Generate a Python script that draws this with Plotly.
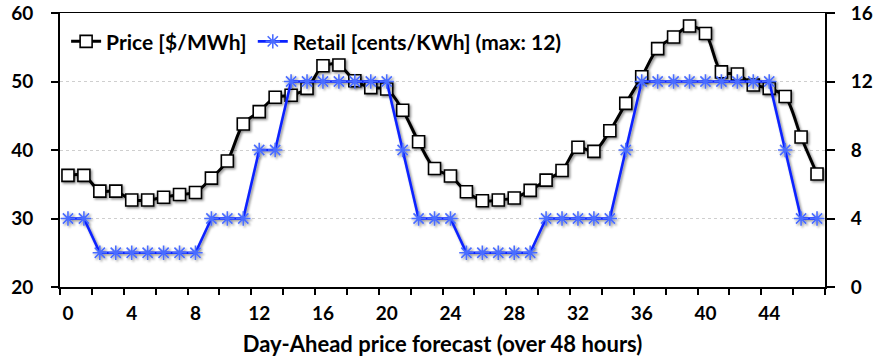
import plotly.graph_objects as go

# Hourly day-ahead forecast, 48 hours
hours = list(range(48))
price_usd_mwh = [
    36.3, 36.3, 34.0, 34.0, 32.7, 32.7, 33.1, 33.5, 33.8, 35.9,
    38.4, 43.8, 45.6, 47.7, 48.0, 49.0, 52.3, 52.4, 50.1, 49.1,
    48.9, 45.8, 41.2, 37.3, 36.2, 33.9, 32.6, 32.7, 33.0, 34.1,
    35.6, 37.0, 40.4, 39.8, 42.8, 46.8, 50.7, 54.8, 56.5, 58.1,
    57.0, 51.4, 51.1, 49.5, 49.0, 47.8, 41.9, 36.5,
]
retail_cents_kwh = [
    4, 4, 2, 2, 2, 2, 2, 2, 2, 4,
    4, 4, 8, 8, 12, 12, 12, 12, 12, 12,
    12, 8, 4, 4, 4, 2, 2, 2, 2, 2,
    4, 4, 4, 4, 4, 8, 12, 12, 12, 12,
    12, 12, 12, 12, 12, 8, 4, 4,
]
x_label_vals = list(range(0, 48, 4))
x_label_text = [str(v) for v in x_label_vals]
x_tick_marks = [h - 0.5 for h in range(0, 49, 2)]
left_ticks = [20, 30, 40, 50, 60]
right_ticks = [0, 4, 8, 12, 16]

FONT = "Lato"
x_range = [-0.5, 47.5]

fig = go.Figure()
fig.add_trace(go.Scatter(
    x=hours, y=price_usd_mwh, name="Price [$/MWh]",
    mode="lines+markers",
    line=dict(color="#000000", width=3, shape="spline", smoothing=0.9),
    marker=dict(symbol="square", size=12, color="#ffffff",
                line=dict(color="#000000", width=1.6)),
    xaxis="x", yaxis="y", legend="legend",
))
fig.add_trace(go.Scatter(
    x=hours, y=retail_cents_kwh, name="Retail [cents/KWh] (max: 12)",
    mode="lines+markers",
    line=dict(color="#0a22ff", width=2.6),
    marker=dict(symbol="asterisk-open", size=12, color="#4a6cff",
                line=dict(color="#4a6cff", width=1.6)),
    xaxis="x2", yaxis="y2", legend="legend2",
))

legend_style = dict(
    orientation="h", yanchor="top", xanchor="left", y=0.97,
    bgcolor="rgba(0,0,0,0)", font=dict(size=21, family=FONT, weight="bold"),
    itemwidth=30,
)

fig.update_layout(
    width=875, height=362,
    margin=dict(l=60, r=50, t=13, b=75, autoexpand=False),
    paper_bgcolor="#ffffff", plot_bgcolor="#ffffff",
    font=dict(family=FONT, color="#000000", size=19, weight="bold"),
    showlegend=True,
    legend=dict(x=0.008, **legend_style),
    legend2=dict(x=0.252, **legend_style),
    xaxis=dict(
        range=x_range, tickmode="array", tickvals=x_label_vals, ticktext=x_label_text,
        ticks="", showgrid=False, zeroline=False, automargin=False,
        showline=True, linecolor="#000000", linewidth=2,
        minor=dict(tickmode="array", tickvals=x_tick_marks, ticks="outside",
                   ticklen=6, tickwidth=2, tickcolor="#000000", showgrid=False),
        ticklabelstandoff=8,
        tickfont=dict(size=19, family=FONT, weight="bold"),
        title=dict(text="Day-Ahead price forecast (over 48 hours)",
                   font=dict(size=22, family=FONT, weight="bold"), standoff=14),
    ),
    xaxis2=dict(
        range=x_range, overlaying="x", side="top", anchor="y2",
        showticklabels=False, ticks="", showgrid=False, zeroline=False,
        showline=True, linecolor="#000000", linewidth=1, automargin=False,
    ),
    xaxis3=dict(
        range=x_range, overlaying="x", side="bottom", anchor="y",
        tickmode="array", tickvals=x_tick_marks, ticks="inside",
        ticklen=6, tickwidth=2, tickcolor="#000000", automargin=False,
        showticklabels=False, showgrid=False, zeroline=False, showline=False,
    ),
    yaxis=dict(
        range=[20, 60], tickmode="array", tickvals=left_ticks,
        ticks="outside", ticklen=7, tickwidth=2, tickcolor="#000000",
        showline=True, linecolor="#000000", linewidth=2, zeroline=False,
        showgrid=True, gridcolor="#cfcfcf", griddash="dot", gridwidth=1,
        ticklabelstandoff=14, automargin=False,
        tickfont=dict(size=19, family=FONT, weight="bold"),
    ),
    yaxis2=dict(
        range=[0, 16], tickmode="array", tickvals=right_ticks,
        overlaying="y", side="right", anchor="x2",
        ticks="outside", ticklen=8, tickwidth=2, tickcolor="#000000",
        showline=True, linecolor="#000000", linewidth=2, zeroline=False,
        showgrid=False, ticklabelstandoff=12, automargin=False,
        tickfont=dict(size=19, family=FONT, weight="bold"),
    ),
)

# soft drop shadow under the series, as in the original workbook chart
shadow_js = """
var gd = document.getElementById('{plot_id}');
function addShadow() {
  var svg = gd.querySelector('svg.main-svg');
  if (!svg) return;
  var ns = 'http://www.w3.org/2000/svg';
  var defs = svg.querySelector('defs') || svg.insertBefore(document.createElementNS(ns, 'defs'), svg.firstChild);
  if (!defs.querySelector('#seriesShadow')) {
    var f = document.createElementNS(ns, 'filter');
    f.setAttribute('id', 'seriesShadow');
    f.setAttribute('x', '-20%'); f.setAttribute('y', '-20%');
    f.setAttribute('width', '140%'); f.setAttribute('height', '140%');
    var s = document.createElementNS(ns, 'feDropShadow');
    s.setAttribute('dx', '1.5'); s.setAttribute('dy', '1.5');
    s.setAttribute('stdDeviation', '1.3');
    s.setAttribute('flood-color', '#000'); s.setAttribute('flood-opacity', '0.45');
    f.appendChild(s); defs.appendChild(f);
  }
  gd.querySelectorAll('.cartesianlayer .scatterlayer .trace').forEach(function (t) {
    t.setAttribute('filter', 'url(#seriesShadow)');
  });
}
addShadow();
gd.on('plotly_afterplot', addShadow);
"""

fig.write_html("out.html", post_script=shadow_js)
